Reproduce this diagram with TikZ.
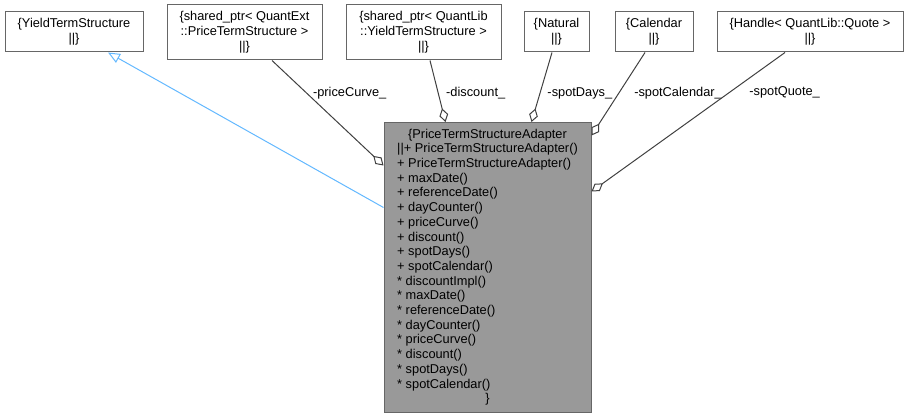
\documentclass[tikz,border=0pt]{standalone}
\usepackage{fontspec}
\setmainfont{Liberation Sans}
\usetikzlibrary{arrows.meta,calc}

\definecolor{boxline}{HTML}{666666}
\definecolor{edgeline}{HTML}{404040}
\definecolor{mainfill}{HTML}{999999}
\definecolor{inheritblue}{HTML}{63B8FF}

\tikzset{
  classbox/.style={draw=boxline, fill=white, line width=1pt, align=center,
    inner sep=0pt, font=\fontsize{12.8}{15}\selectfont},
  mainbox/.style={classbox, fill=mainfill, font=\fontsize{12.8}{14.7}\selectfont},
  assoc/.style={draw=edgeline, line width=1pt, -{Diamond[open, length=14pt, width=9pt]}},
  inherit/.style={draw=inheritblue, line width=1pt, -{Triangle[open, length=12pt, width=10pt]}},
  elabel/.style={font=\fontsize{12.8}{15}\selectfont, inner sep=0pt, anchor=west},
}

\begin{document}
\begin{tikzpicture}[x=1pt, y=-1pt]
  \useasboundingbox (0,0) rectangle (908,417);

  % Member and base classes
  \node[classbox, minimum width=138pt, minimum height=40pt] (yts) at (74,32)
    {\{YieldTermStructure\\||\}};
  \node[classbox, minimum width=155pt, minimum height=55pt] (qext) at (244.5,32.5)
    {\{shared\_ptr< QuantExt\\::PriceTermStructure >\\||\}};
  \node[classbox, minimum width=155pt, minimum height=55pt] (qlib) at (423.5,32.5)
    {\{shared\_ptr< QuantLib\\::YieldTermStructure >\\||\}};
  \node[classbox, minimum width=65pt, minimum height=40pt] (nat) at (556.5,32)
    {\{Natural\\||\}};
  \node[classbox, minimum width=78pt, minimum height=40pt] (cal) at (654,32)
    {\{Calendar\\||\}};
  \node[classbox, minimum width=186pt, minimum height=40pt] (quote) at (810,32)
    {\{Handle< QuantLib::Quote >\\||\}};

  % The adapter class
  \node[mainbox, minimum width=207pt, minimum height=290pt] (adapter) at (487.5,267.5)
    {\begin{tabular}{@{}l@{}}
      \multicolumn{1}{c}{\{PriceTermStructureAdapter}\\
      ||+ PriceTermStructureAdapter()\\
      + PriceTermStructureAdapter()\\
      + maxDate()\\
      + referenceDate()\\
      + dayCounter()\\
      + priceCurve()\\
      + discount()\\
      + spotDays()\\
      + spotCalendar()\\
      {*} discountImpl()\\
      {*} maxDate()\\
      {*} referenceDate()\\
      {*} dayCounter()\\
      {*} priceCurve()\\
      {*} discount()\\
      {*} spotDays()\\
      {*} spotCalendar()\\
      \multicolumn{1}{c}{\}}
    \end{tabular}};

  % Inheritance
  \draw[inherit] ($(adapter.north west)+(0,85.5)$) -- ($(yts.south)+(34,0)$);

  % Members
  \draw[assoc] ($(qext.south)+(27.5,0)$) --
    node[elabel, pos=0.31, xshift=6pt] {-priceCurve\_} ($(adapter.north west)+(0,43.5)$);
  \draw[assoc] ($(qlib.south)+(6.5,0)$) --
    node[elabel, pos=0.53, xshift=7.5pt] {-discount\_} ($(adapter.north west)+(62,0)$);
  \draw[assoc] ($(nat.south)+(-4.5,0)$) --
    node[elabel, pos=0.586, xshift=7pt] {-spotDays\_} ($(adapter.north west)+(148,0)$);
  \draw[assoc] ($(cal.south)+(-9,0)$) --
    node[elabel, pos=0.49, xshift=15pt] {-spotCalendar\_} ($(adapter.north east)+(0,13.5)$);
  \draw[assoc] ($(quote.south)+(-25,0)$) --
    node[elabel, pos=0.29, xshift=20pt] {-spotQuote\_} ($(adapter.north east)+(0,69.5)$);
\end{tikzpicture}
\end{document}
